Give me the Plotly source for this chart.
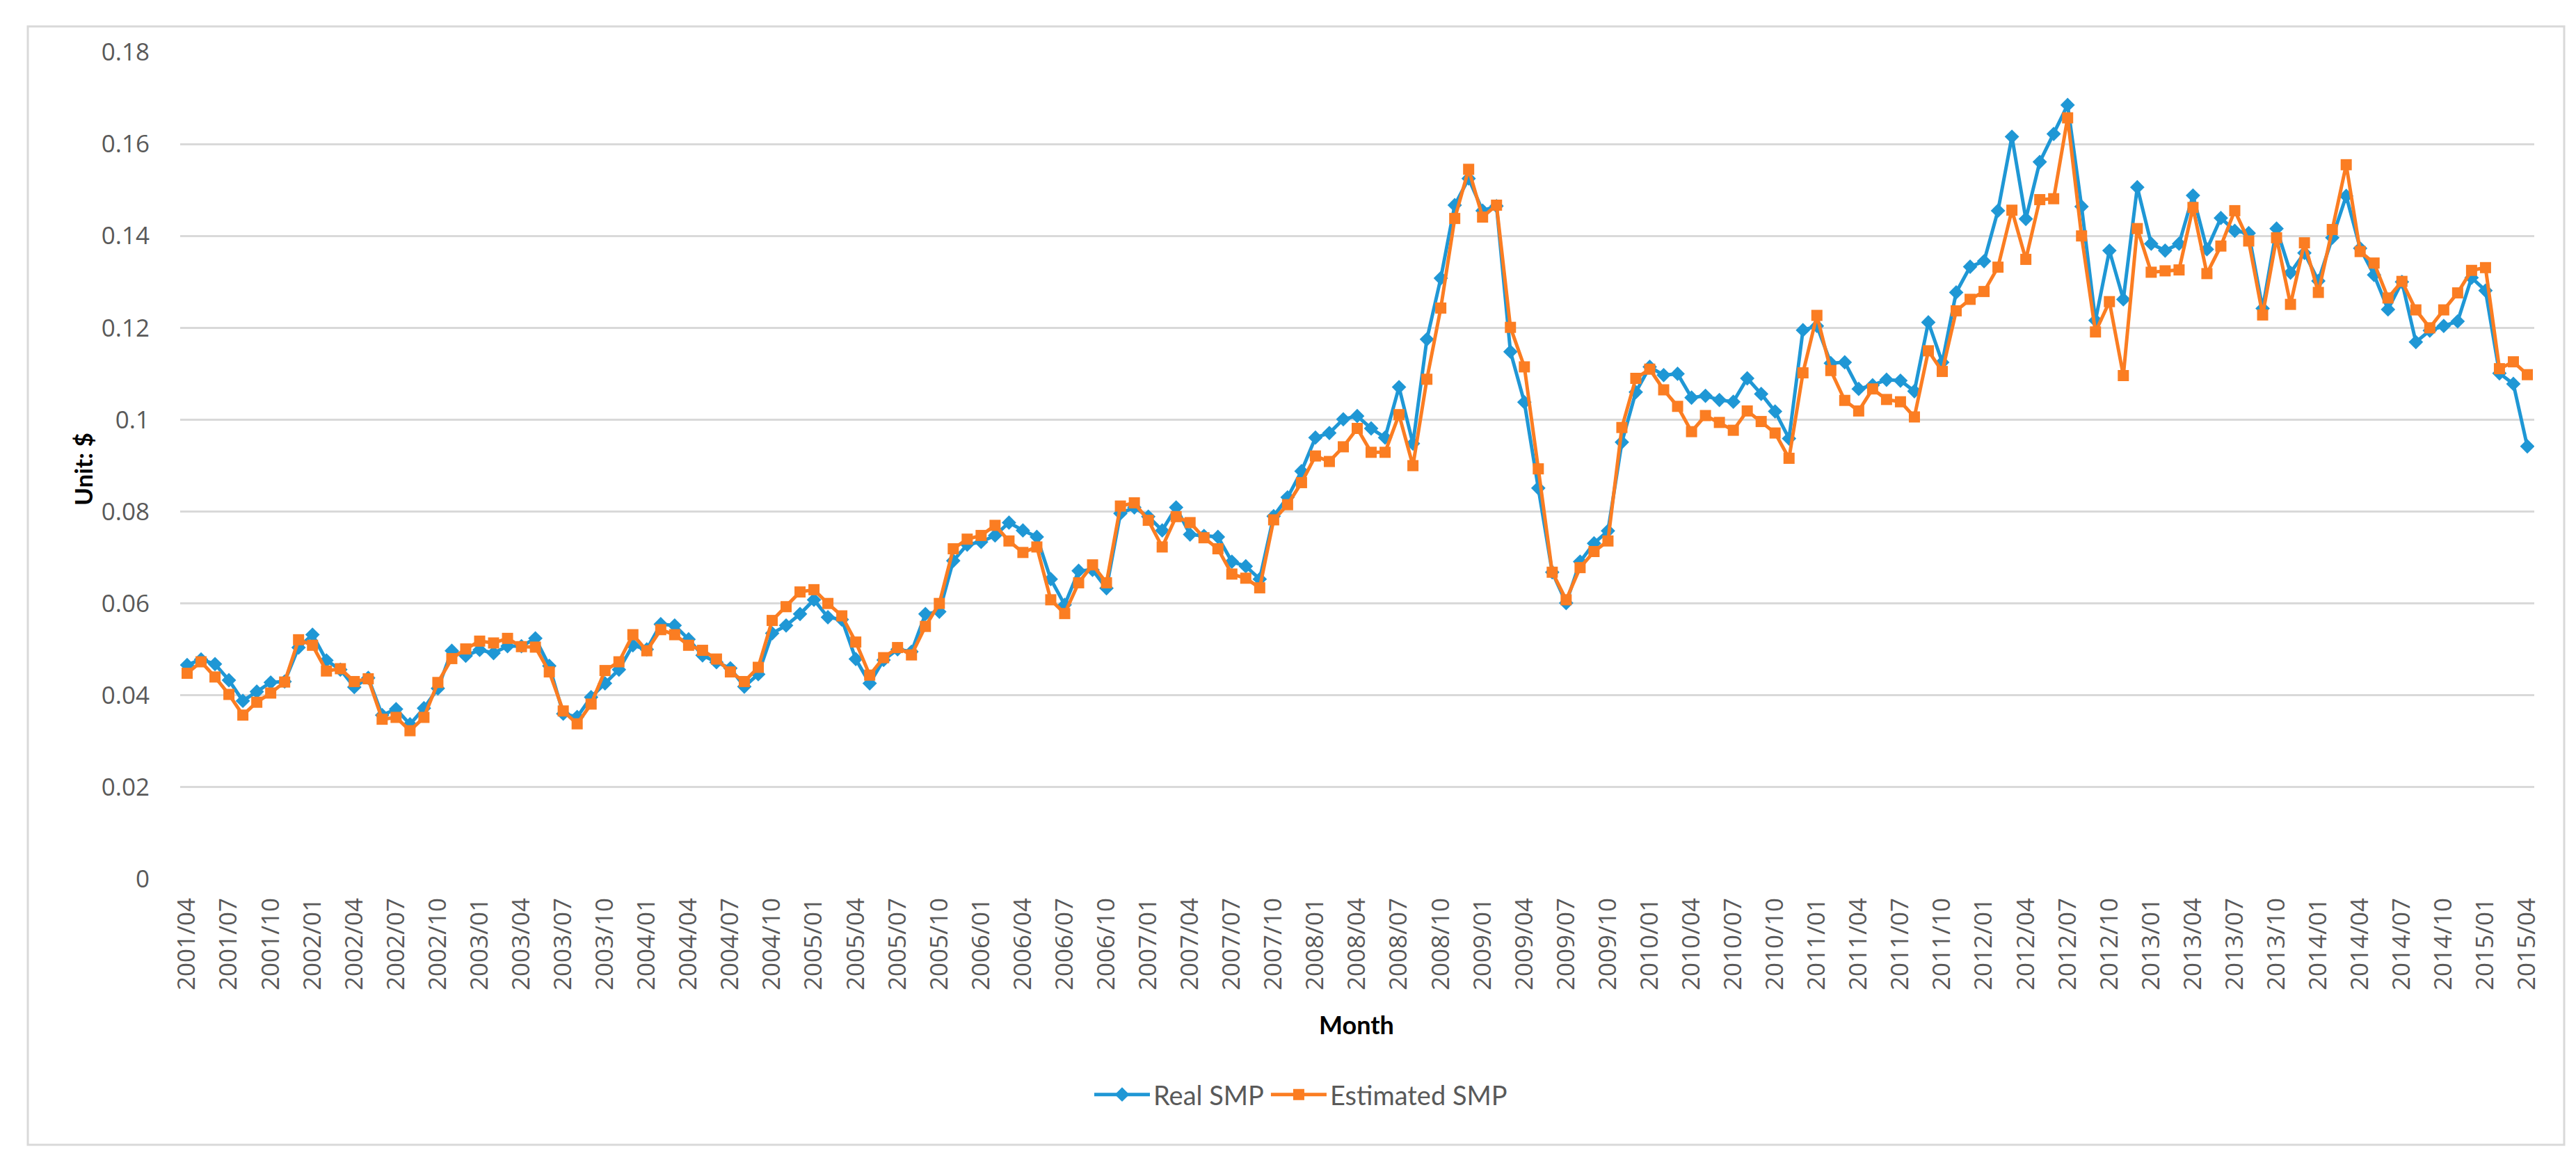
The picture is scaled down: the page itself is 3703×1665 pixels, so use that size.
import plotly.graph_objects as go

# ---- data ----
start_year, start_month = 2001, 4
n_points = 169
months = []
y, m = start_year, start_month
for _ in range(n_points):
    months.append(f"{y}/{m:02d}")
    m += 1
    if m > 12:
        m = 1
        y += 1

real_smp = [
    0.0466, 0.0478, 0.0468, 0.0433, 0.0388, 0.0408, 0.0428, 0.0430, 0.0504, 0.0532,
    0.0476, 0.0456, 0.0418, 0.0438, 0.0357, 0.0370, 0.0337, 0.0372, 0.0415, 0.0497,
    0.0486, 0.0499, 0.0492, 0.0507, 0.0507, 0.0524, 0.0464, 0.0360, 0.0353, 0.0396,
    0.0426, 0.0456, 0.0509, 0.0500, 0.0555, 0.0552, 0.0522, 0.0487, 0.0472, 0.0459,
    0.0419, 0.0446, 0.0535, 0.0552, 0.0577, 0.0608, 0.0570, 0.0565, 0.0479, 0.0426,
    0.0477, 0.0500, 0.0495, 0.0577, 0.0582, 0.0693, 0.0728, 0.0734, 0.0748, 0.0776,
    0.0759, 0.0745, 0.0653, 0.0597, 0.0671, 0.0673, 0.0633, 0.0796, 0.0809, 0.0789,
    0.0759, 0.0809, 0.0750, 0.0747, 0.0745, 0.0691, 0.0681, 0.0653, 0.0790, 0.0831,
    0.0888, 0.0961, 0.0971, 0.1001, 0.1008, 0.0981, 0.0961, 0.1071, 0.0948, 0.1175,
    0.1308, 0.1467, 0.1525, 0.1455, 0.1465, 0.1148, 0.1038, 0.0851, 0.0668, 0.0601,
    0.0691, 0.0731, 0.0758, 0.0951, 0.1060, 0.1115, 0.1097, 0.1100, 0.1048, 0.1052,
    0.1043, 0.1039, 0.1090, 0.1056, 0.1018, 0.0959, 0.1195, 0.1204, 0.1123, 0.1125,
    0.1067, 0.1075, 0.1087, 0.1085, 0.1062, 0.1212, 0.1125, 0.1277, 0.1333, 0.1345,
    0.1455, 0.1616, 0.1437, 0.1561, 0.1622, 0.1685, 0.1464, 0.1216, 0.1368, 0.1262,
    0.1506, 0.1383, 0.1368, 0.1383, 0.1488, 0.1371, 0.1439, 0.1411, 0.1406, 0.1242,
    0.1416, 0.1320, 0.1363, 0.1302, 0.1396, 0.1487, 0.1373, 0.1315, 0.1240, 0.1300,
    0.1169, 0.1194, 0.1204, 0.1214, 0.1309, 0.1281, 0.1101, 0.1078, 0.0942,
]

estimated_smp = [
    0.0448, 0.0473, 0.0440, 0.0402, 0.0357, 0.0385, 0.0405, 0.0429, 0.0521, 0.0509,
    0.0453, 0.0458, 0.0430, 0.0436, 0.0348, 0.0352, 0.0323, 0.0352, 0.0428, 0.0480,
    0.0501, 0.0518, 0.0514, 0.0524, 0.0506, 0.0505, 0.0451, 0.0366, 0.0338, 0.0381,
    0.0454, 0.0473, 0.0532, 0.0497, 0.0543, 0.0532, 0.0509, 0.0498, 0.0479, 0.0451,
    0.0430, 0.0461, 0.0563, 0.0593, 0.0625, 0.0630, 0.0600, 0.0573, 0.0516, 0.0444,
    0.0482, 0.0504, 0.0488, 0.0550, 0.0600, 0.0719, 0.0740, 0.0748, 0.0770, 0.0736,
    0.0711, 0.0723, 0.0608, 0.0578, 0.0645, 0.0684, 0.0645, 0.0812, 0.0819, 0.0781,
    0.0723, 0.0789, 0.0776, 0.0743, 0.0719, 0.0664, 0.0655, 0.0634, 0.0782, 0.0815,
    0.0863, 0.0921, 0.0909, 0.0941, 0.0981, 0.0929, 0.0929, 0.1011, 0.0900, 0.1088,
    0.1243, 0.1438, 0.1545, 0.1441, 0.1467, 0.1201, 0.1115, 0.0893, 0.0668, 0.0608,
    0.0678, 0.0713, 0.0736, 0.0983, 0.1090, 0.1110, 0.1065, 0.1029, 0.0974, 0.1009,
    0.0994, 0.0977, 0.1019, 0.0996, 0.0971, 0.0916, 0.1102, 0.1227, 0.1107, 0.1042,
    0.1019, 0.1067, 0.1044, 0.1039, 0.1006, 0.1150, 0.1105, 0.1237, 0.1262, 0.1279,
    0.1332, 0.1456, 0.1349, 0.1479, 0.1481, 0.1657, 0.1400, 0.1191, 0.1257, 0.1096,
    0.1416, 0.1321, 0.1324, 0.1326, 0.1462, 0.1318, 0.1378, 0.1455, 0.1389, 0.1228,
    0.1396, 0.1251, 0.1385, 0.1277, 0.1414, 0.1555, 0.1366, 0.1341, 0.1265, 0.1301,
    0.1239, 0.1200, 0.1239, 0.1276, 0.1325, 0.1331, 0.1111, 0.1126, 0.1098,
]

x_tick_labels = months[::3]
y_tick_values = [0, 0.02, 0.04, 0.06, 0.08, 0.1, 0.12, 0.14, 0.16, 0.18]
y_tick_labels = ["0", "0.02", "0.04", "0.06", "0.08", "0.1", "0.12", "0.14", "0.16", "0.18"]

# ---- styling ----
BLUE = "#1F97D5"
ORANGE = "#FB7D22"
GRID = "#D9D9D9"
TICK_COLOR = "#595959"
TICK_FONT = "Open Sans"
TITLE_FONT = "Lato"

fig = go.Figure()
fig.add_trace(go.Scatter(
    x=months, y=real_smp, name="Real SMP", mode="lines+markers",
    line=dict(color=BLUE, width=5),
    marker=dict(symbol="diamond", size=16, color=BLUE, line=dict(width=0)),
))
fig.add_trace(go.Scatter(
    x=months, y=estimated_smp, name="Estimated SMP", mode="lines+markers",
    line=dict(color=ORANGE, width=5),
    marker=dict(symbol="square", size=16, color=ORANGE, line=dict(width=0)),
))

W, H = 3703, 1665
L, R, T, B = 251, 68, 67, 409
pw, ph = W - L - R, H - T - B

def px_x(p):
    return (p - L) / pw

def px_y(p):
    return (H - B - p) / ph

fig.update_layout(
    width=W, height=H,
    margin=dict(l=L, r=R, t=T, b=B),
    paper_bgcolor="white", plot_bgcolor="white",
    showlegend=True,
    legend=dict(
        orientation="h", x=px_x(1862), y=px_y(1566),
        xanchor="center", yanchor="middle",
        font=dict(family=TITLE_FONT, size=38, color=TICK_COLOR),
        itemwidth=80, bgcolor="rgba(0,0,0,0)",
    ),
    xaxis=dict(
        type="category", range=[-0.5, len(months) - 0.5],
        tickmode="array", tickvals=x_tick_labels, ticktext=x_tick_labels,
        tickangle=-90, showgrid=False, zeroline=False, showline=False,
        ticks="outside", ticklen=12, tickcolor="rgba(0,0,0,0)",
        tickfont=dict(family=TICK_FONT, size=35, color=TICK_COLOR),
    ),
    yaxis=dict(
        range=[0, 0.18], tickmode="array", tickvals=y_tick_values, ticktext=y_tick_labels,
        showgrid=True, gridcolor=GRID, gridwidth=2.5, zeroline=False, showline=False,
        ticks="outside", ticklen=36, tickcolor="rgba(0,0,0,0)",
        tickfont=dict(family=TICK_FONT, size=35, color=TICK_COLOR),
    ),
    annotations=[
        dict(text="<b>Unit: $</b>", x=px_x(111), y=px_y(667), xref="paper", yref="paper",
             showarrow=False, textangle=-90, xanchor="center", yanchor="middle",
             font=dict(family=TITLE_FONT, size=35, color="black")),
        dict(text="<b>Month</b>", x=px_x(1942), y=px_y(1465), xref="paper", yref="paper",
             showarrow=False, xanchor="center", yanchor="middle",
             font=dict(family=TITLE_FONT, size=36, color="black")),
    ],
    shapes=[
        dict(type="rect", xref="paper", yref="paper",
             x0=px_x(32), x1=px_x(3678), y0=px_y(1638), y1=px_y(30),
             line=dict(color=GRID, width=3), fillcolor="rgba(0,0,0,0)", layer="below"),
    ],
)

fig.write_html("out.html")
